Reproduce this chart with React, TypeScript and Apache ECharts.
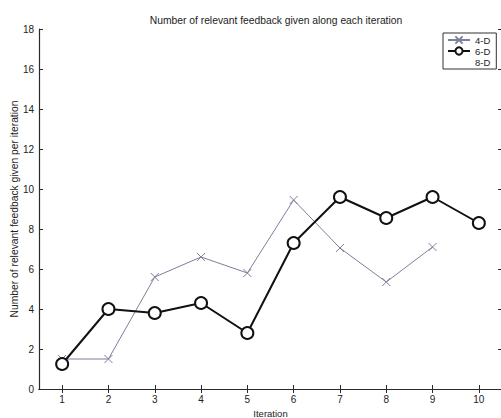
import React, { useEffect, useRef } from "react";
import * as echarts from "echarts";

const iterations = ["1", "2", "3", "4", "5", "6", "7", "8", "9", "10"];
const d4 = [1.5, 1.5, 5.6, 6.6, 5.8, 9.45, 7.05, 5.35, 7.1, null];
const d6 = [1.25, 4.0, 3.8, 4.3, 2.8, 7.3, 9.6, 8.55, 9.6, 8.3];
const d8: (number | null)[] = [];
const yTicks = { min: 0, max: 18, interval: 2 };

const FONT = "Liberation Sans, Arial, Helvetica, sans-serif";
const AX = "#2a2a2a";

export default function App() {
  const ref = useRef<HTMLDivElement>(null);
  useEffect(() => {
    if (!ref.current) return;
    const chart = echarts.init(ref.current, undefined, { renderer: "svg" });
    const tickStyle = { show: true, inside: true, length: 4, lineStyle: { color: AX, width: 1 } };
    chart.setOption({
      animation: false,
      backgroundColor: "#fff",
      title: {
        text: "Number of relevant feedback given along each iteration",
        left: 271,
        textAlign: "center",
        top: 10,
        textStyle: { fontSize: 10.3, fontWeight: "normal", color: "#222", fontFamily: FONT },
      },
      legend: {
        orient: "vertical",
        left: 443,
        top: 33,
        width: 60,
        padding: [2, 6, 2, 4],
        itemGap: 1,
        itemWidth: 22,
        itemHeight: 9,
        borderColor: "#333",
        borderWidth: 1,
        backgroundColor: "#fff",
        textStyle: { fontSize: 9.5, color: "#222", fontFamily: FONT },
        data: ["4-D", "6-D", "8-D"],
      },
      grid: { left: 39, right: -1, top: 29, bottom: 29, containLabel: false, outerBoundsMode: "none" },
      xAxis: [
        {
          type: "category",
          data: iterations,
          boundaryGap: true,
          name: "Iteration",
          nameLocation: "middle",
          nameGap: 17,
          nameTextStyle: { fontSize: 9.5, color: "#222", fontFamily: FONT },
          axisLine: { lineStyle: { color: AX, width: 1.2 } },
          axisTick: { ...tickStyle, alignWithLabel: true },
          axisLabel: { fontSize: 10, color: "#222", fontFamily: FONT, margin: 5 },
          splitLine: { show: false },
        },
        {
          type: "category",
          data: iterations,
          position: "top",
          boundaryGap: true,
          axisLine: { show: true, lineStyle: { color: AX, width: 1.2 } },
          axisTick: { ...tickStyle, alignWithLabel: true },
          axisLabel: { show: false },
          splitLine: { show: false },
        },
      ],
      yAxis: [
        {
          type: "value",
          ...yTicks,
          name: "Number of relevant feedback given per iteration",
          nameLocation: "middle",
          nameGap: 20,
          nameMoveOverlap: false,
          nameTextStyle: { fontSize: 10.3, color: "#222", fontFamily: FONT },
          axisLine: { show: true, lineStyle: { color: AX, width: 1.2 } },
          axisTick: tickStyle,
          axisLabel: { fontSize: 10, color: "#222", fontFamily: FONT, margin: 5 },
          splitLine: { show: false },
        },
        {
          type: "value",
          ...yTicks,
          position: "right",
          axisLine: { show: true, lineStyle: { color: AX, width: 1.2 } },
          axisTick: tickStyle,
          axisLabel: { show: false },
          splitLine: { show: false },
        },
      ],
      series: [
        {
          name: "4-D",
          type: "line",
          data: d4,
          symbol: "path://M0,0L10,10M10,0L0,10",
          symbolSize: 8,
          color: "#7c809a",
          lineStyle: { color: "#7c809a", width: 1 },
          itemStyle: { color: "#7c809a", borderColor: "#7c809a", borderWidth: 1 },
        },
        {
          name: "6-D",
          type: "line",
          data: d6,
          symbol: "emptyCircle",
          symbolSize: 12,
          color: "#111",
          lineStyle: { color: "#111", width: 2 },
          itemStyle: { color: "#111", borderColor: "#111", borderWidth: 1.6 },
        },
        {
          name: "8-D",
          type: "line",
          data: d8,
          symbol: "none",
          color: "#ffffff",
          lineStyle: { color: "#ffffff", width: 1 },
        },
      ],
    });
    return () => chart.dispose();
  }, []);
  return (
    <div style={{ position: "fixed", left: 0, top: 0, width: 501, height: 418, overflow: "hidden", background: "#fff" }}>
      <div ref={ref} style={{ width: 501, height: 418 }} />
    </div>
  );
}
